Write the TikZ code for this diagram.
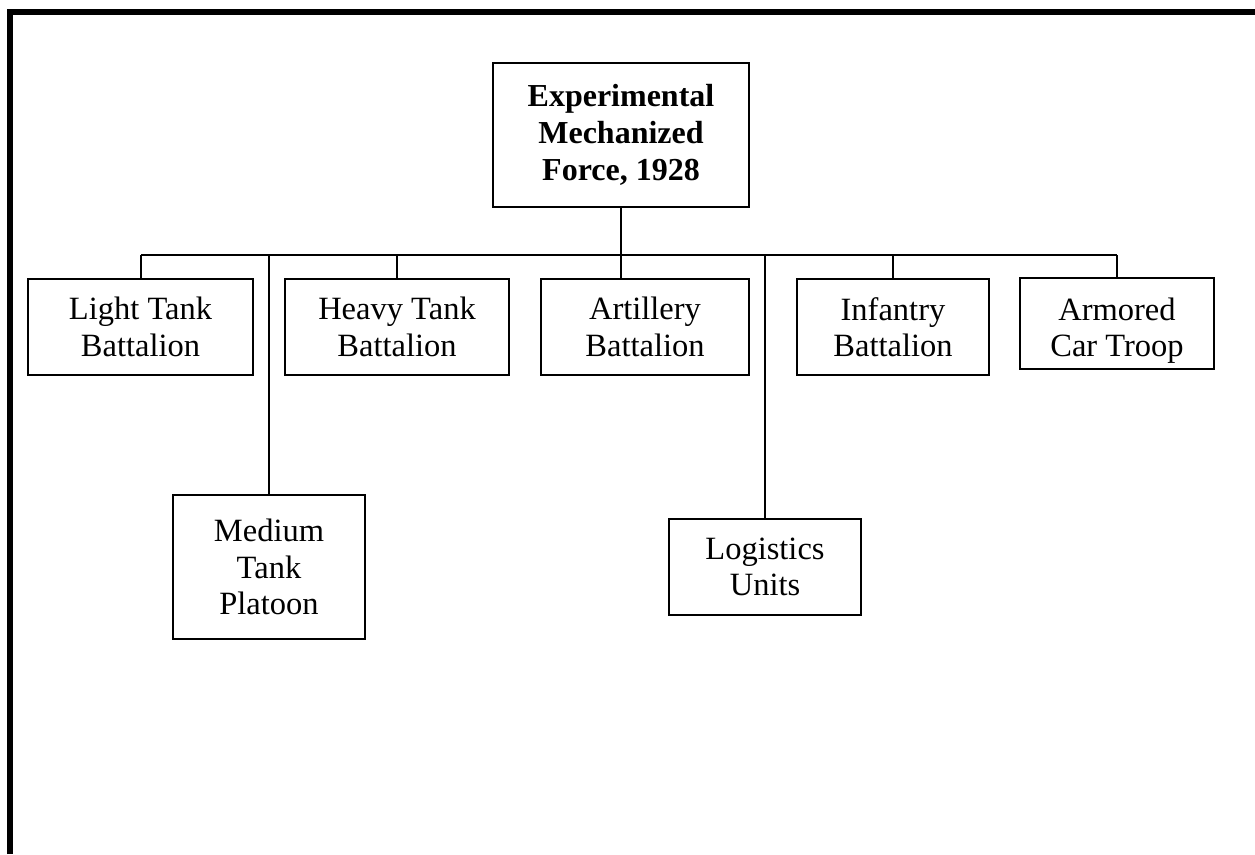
\documentclass[tikz,border=0pt]{standalone}
\usepackage{fontspec}
\setmainfont{Liberation Serif}
\begin{document}
\begin{tikzpicture}[x=1pt,y=-1pt,
  unit/.style={draw, line width=2pt, align=center, inner sep=0pt,
    font=\fontsize{32.5}{36.5}\selectfont},
  link/.style={line width=2pt},
  frame/.style={line width=6pt}]
\useasboundingbox (0,0) rectangle (1255,854);
\coordinate (fa) at (10,854);
\coordinate (fb) at (10,12);
\coordinate (fc) at (1255,12);
\draw[frame] (fa) -- (fb) -- (fc);

\node[unit, minimum width=256pt, minimum height=144pt, font=\bfseries\fontsize{32}{37}\selectfont] (top) at (621,135) {Experimental\\Mechanized\\Force, 1928};

\node[unit, minimum width=225pt, minimum height=96pt] (light) at (140.5,327) {Light Tank\\Battalion};
\node[unit, minimum width=224pt, minimum height=96pt] (heavy) at (397,327) {Heavy Tank\\Battalion};
\node[unit, minimum width=208pt, minimum height=96pt] (art) at (645,327) {Artillery\\Battalion};
\node[unit, minimum width=192pt, minimum height=96pt] (inf) at (893,327) {Infantry\\Battalion};
\node[unit, draw=none, minimum width=192pt, minimum height=96pt] (arm) at (1117,327) {Armored\\\smash{Car Troop}};
\draw[line width=2pt] (arm.north west) rectangle ([yshift=7pt]arm.south east);
\node[unit, minimum width=192pt, minimum height=144pt] (med) at (269,567) {Medium\\Tank\\Platoon};
\node[unit, minimum width=192pt, minimum height=96pt] (log) at (765,567) {Logistics\\Units};

\coordinate (bl) at (141,255);
\coordinate (br) at (1117,255);
\coordinate (bm) at (621,255);
\draw[link] (top.south) -- (bm);
\draw[link] (bl) -- (br);
\draw[link] (bl) -- (bl |- light.north);
\draw[link] (397,255) -- (heavy.north);
\draw[link] (bm) -- (bm |- art.north);
\draw[link] (893,255) -- (inf.north);
\draw[link] (br) -- (arm.north);
\draw[link] (269,255) -- (med.north);
\draw[link] (765,255) -- (log.north);
\end{tikzpicture}
\end{document}
